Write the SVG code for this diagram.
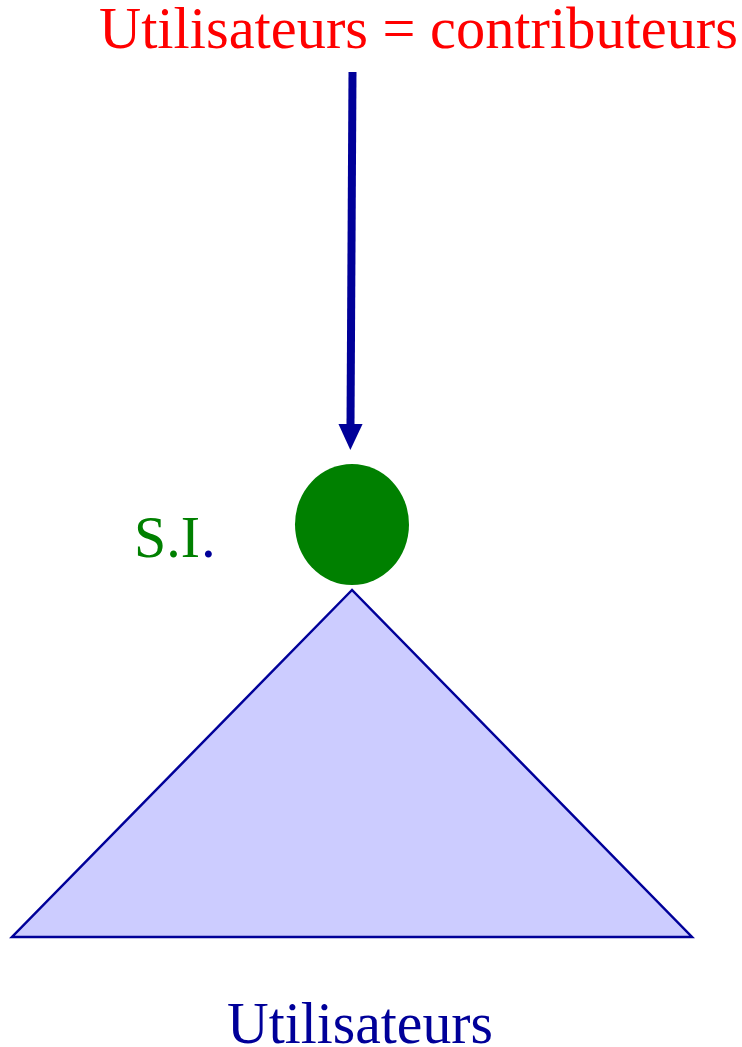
<svg xmlns="http://www.w3.org/2000/svg" width="742" height="1047" viewBox="0 0 742 1047">
<style>
text{font-family:"Liberation Serif","Times New Roman",serif;font-size:59px}
.title{fill:#ff0000}
.si{fill:#008000}
.users{fill:#000099}
</style>
<defs>
<marker id="ah" markerUnits="userSpaceOnUse" markerWidth="26" markerHeight="28" refX="0" refY="13" orient="auto" viewBox="0 0 28 26">
<path d="M0,0 L28,13 L0,26 Z" fill="#000099"/>
</marker>
</defs>
<rect width="742" height="1047" fill="#ffffff"/>
<g id="title"><text class="title" x="99" y="48" textLength="639" lengthAdjust="spacingAndGlyphs">Utilisateurs = contributeurs</text></g>
<g id="connectors">
<line x1="352.5" y1="72" x2="350.5" y2="424" stroke="#000099" stroke-width="8" marker-end="url(#ah)"/>
</g>
<g id="si-node">
<ellipse cx="352" cy="524.5" rx="57" ry="60.5" fill="#008000"/>
<text class="si" x="134" y="557" textLength="66" lengthAdjust="spacingAndGlyphs">S.I</text>
<text class="users" x="201" y="557">.</text>
</g>
<g id="users-node">
<polygon points="352,590 12,937 692,937" fill="#ccccff" stroke="#000099" stroke-width="2.5"/>
<text class="users" x="227" y="1043" textLength="266" lengthAdjust="spacingAndGlyphs">Utilisateurs</text>
</g>
</svg>
